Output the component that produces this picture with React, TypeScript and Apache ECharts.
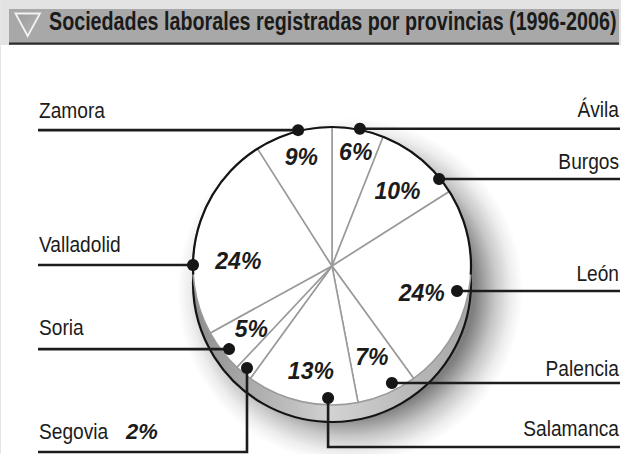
import React, { useEffect, useRef } from 'react';
import * as echarts from 'echarts';

const W = 621;
const H = 454;

// ---- data ----
const title = 'Sociedades laborales registradas por provincias (1996-2006)';
const provinces = ['Ávila', 'Burgos', 'León', 'Palencia', 'Salamanca', 'Segovia', 'Soria', 'Valladolid', 'Zamora'];
const shares = [6, 10, 24, 7, 13, 2, 5, 24, 9];
// where each leader line touches the pie (degrees clockwise from 12 o'clock, and distance from centre)
const anchorAngles = [11.5, 50.9, 101.3, 152.9, 181.7, 219.8, 231.1, 270.4, 346];
const anchorRadii = [140, 138, 127.5, 131.5, 132, 132.8, 132.3, 139, 140];
// where each percentage sits inside its slice
const valueAngles = [11.8, 41.1, 106.5, 156.5, 191.4, 219.8, 231.9, 273.2, 344.3];
const valueRadii = [116, 99.6, 93.5, 99.7, 107, 110, 102.6, 93.8, 113.5];
const labelSides = ['right', 'right', 'right', 'right', 'right', 'left', 'left', 'left', 'left'];
const outsideValue = ['Segovia'];

// ---- layout ----
const CX = 332;
const CY = 266;
const R = 139;
const DEPTH = 17;
const LEFT_X = 38;
const RIGHT_X = 620;
const dropY: Record<string, number> = { Salamanca: 447, Segovia: 452 };
const nameGap = [14, 12, 12, 9, 13, 15, 16, 15, 14];
const FONT = '"Liberation Sans", Arial, Helvetica, sans-serif';

function measure(text: string, font: string): number {
  const c = document.createElement('canvas').getContext('2d');
  if (!c) return text.length * 10;
  c.font = font;
  return c.measureText(text).width;
}

function polar(angleDeg: number, r: number): [number, number] {
  const a = (angleDeg * Math.PI) / 180;
  return [CX + r * Math.sin(a), CY - r * Math.cos(a)];
}

export default function App() {
  const ref = useRef<HTMLDivElement>(null);
  useEffect(() => {
    document.body.style.margin = '0';
    const chart = echarts.init(ref.current!, null, { renderer: 'svg' });

    const titleFont = `bold 25px ${FONT}`;
    const titleScale = 568 / measure(title, titleFont);
    const nameFont = `22px ${FONT}`;
    const NAME_SCALE = 0.87;

    const graphics: any[] = [];
    // header
    graphics.push({ type: 'rect', z: 0, shape: { x: 0, y: 0, width: W, height: 45 }, style: { fill: '#e3e3e3' } });
    graphics.push({ type: 'rect', z: 0, shape: { x: 0, y: 0, width: 1, height: H }, style: { fill: '#e6e6e6' } });
    graphics.push({ type: 'rect', z: 0, shape: { x: 9, y: 9, width: 610, height: 34 }, style: { fill: '#a8a8a8' } });
    graphics.push({ type: 'rect', z: 0, shape: { x: 9, y: 42.5, width: 610, height: 2.2 }, style: { fill: '#2b2b2b' } });
    graphics.push({
      type: 'polygon', z: 1,
      shape: { points: [[15.5, 13.5], [40, 13.5], [27.7, 36]] },
      style: {
        fill: new echarts.graphic.LinearGradient(0, 0, 1, 1, [
          { offset: 0, color: '#9a9a9a' },
          { offset: 1, color: '#b8b8b8' },
        ]),
        stroke: '#f2f2f2', lineWidth: 1.8,
      },
    });
    graphics.push({
      type: 'text', z: 1, x: 49, y: 22, scaleX: titleScale,
      style: { text: title, font: titleFont, fill: '#1b1b1b', align: 'left', verticalAlign: 'middle' },
    });

    // soft drop shadow of the pie, towards the lower right
    graphics.push({
      type: 'circle', z: 0,
      shape: { cx: CX + 18, cy: CY + DEPTH + 8, r: R + 34 },
      style: {
        fill: new echarts.graphic.RadialGradient(0.5, 0.5, 0.5, [
          { offset: 0, color: 'rgba(0,0,0,0.6)' },
          { offset: 0.72, color: 'rgba(0,0,0,0.5)' },
          { offset: 0.84, color: 'rgba(0,0,0,0.22)' },
          { offset: 0.93, color: 'rgba(0,0,0,0.07)' },
          { offset: 1, color: 'rgba(0,0,0,0)' },
        ]),
      },
    });
    // pie body (extrusion)
    graphics.push({
      type: 'circle', z: 0,
      shape: { cx: CX, cy: CY + DEPTH, r: R },
      style: {
        fill: new echarts.graphic.LinearGradient(0, 0, 1, 0, [
          { offset: 0, color: '#8e8e8e' },
          { offset: 0.5, color: '#d2d2d2' },
          { offset: 1, color: '#a6a6a6' },
        ]),
        stroke: '#141414', lineWidth: 2.2,
      },
    });
    // black outline of the upper rim of the top face
    const delta = Math.asin(DEPTH / 2 / R);
    graphics.push({
      type: 'arc', z: 10,
      shape: { cx: CX, cy: CY, r: R, startAngle: Math.PI - delta, endAngle: 2 * Math.PI + delta, clockwise: true },
      style: { stroke: '#141414', lineWidth: 2.2, fill: null },
    });

    // leader lines, dots and names
    provinces.forEach((name, i) => {
      const [px, py] = polar(anchorAngles[i], anchorRadii[i]);
      const side = labelSides[i];
      const endX = side === 'right' ? RIGHT_X : LEFT_X;
      let points: number[][];
      let lineY = py;
      if (dropY[name] !== undefined) {
        lineY = dropY[name];
        points = [[px, py], [px, lineY], [endX, lineY]];
      } else {
        points = [[px, py], [endX, py]];
      }
      graphics.push({
        type: 'polyline', z: 10,
        shape: { points },
        style: { stroke: '#1c1c1c', lineWidth: 2.6, fill: null },
      });
      graphics.push({
        type: 'circle', z: 11,
        shape: { cx: px, cy: py, r: 6 },
        style: { fill: '#161616' },
      });
      const baseY = lineY - nameGap[i];
      graphics.push({
        type: 'text', z: 11,
        x: side === 'right' ? 619 : 39, y: baseY + 5, scaleX: NAME_SCALE,
        style: { text: name, font: nameFont, fill: '#1b1b1b', align: side === 'right' ? 'right' : 'left', verticalAlign: 'bottom' },
      });
      if (outsideValue.includes(name)) {
        graphics.push({
          type: 'text', z: 11,
          x: 126, y: baseY + 5,
          style: { text: shares[i] + '%', font: `italic bold 22px ${FONT}`, fill: '#1b1b1b', align: 'left', verticalAlign: 'bottom' },
        });
      }
    });

    const pieData = provinces.map((n, i) => ({
      name: n,
      value: shares[i],
      label: { show: !outsideValue.includes(n) },
    }));

    chart.setOption({
      animation: false,
      backgroundColor: '#ffffff',
      graphic: { elements: graphics },
      series: [
        {
          type: 'pie',
          z: 2,
          center: [CX, CY],
          radius: [0, R],
          startAngle: 90,
          clockwise: true,
          silent: true,
          emphasis: { disabled: true },
          itemStyle: { color: '#ffffff', borderColor: '#9b9b9b', borderWidth: 1.6 },
          label: {
            show: true,
            position: 'inside',
            formatter: '{c}%',
            color: '#1b1b1b',
            fontFamily: FONT,
            fontSize: 23,
            fontWeight: 'bold',
            fontStyle: 'italic',
          },
          labelLine: { show: false },
          labelLayout: (params: any) => {
            const i = params.dataIndex;
            const [x, y] = polar(valueAngles[i], valueRadii[i]);
            return { x, y, align: 'center', verticalAlign: 'middle' };
          },
          data: pieData,
        },
      ],
    });
    return () => chart.dispose();
  }, []);
  return <div ref={ref} style={{ width: W, height: H }} />;
}
